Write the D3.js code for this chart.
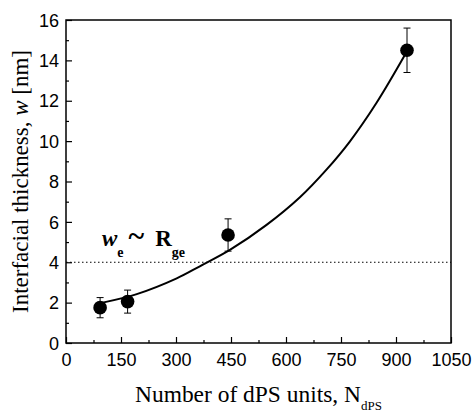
<!DOCTYPE html>
<html><head><meta charset="utf-8">
<script src="https://cdn.jsdelivr.net/npm/d3@7"></script>
<style>body{margin:0;background:#fff}svg{display:block}</style>
</head><body>
<script>
// Data
const pointsN = [93, 168, 442, 930];
const pointsW = [1.75, 2.05, 5.35, 14.5];
const errW = [0.5, 0.57, 0.8, 1.1];
const fitN = [100, 193, 302, 365, 447, 547, 638, 711, 774, 847, 930];
const fitW = [2.0, 2.42, 3.2, 3.8, 4.61, 5.85, 7.22, 8.6, 9.98, 11.9, 14.45];
const refLineW = 4;
const xTicks = [0, 150, 300, 450, 600, 750, 900, 1050];
const yTicks = [0, 2, 4, 6, 8, 10, 12, 14, 16];

const W = 472, H = 412;
const m = {l: 66, r: 21, t: 20, b: 69};
const svg = d3.select("body").append("svg").attr("width", W).attr("height", H);
const x = d3.scaleLinear().domain([0, 1050]).range([m.l, W - m.r]);
const y = d3.scaleLinear().domain([0, 16]).range([H - m.b, m.t]);

// frame
svg.append("rect").attr("x", x(0)).attr("y", y(16)).attr("width", x(1050) - x(0)).attr("height", y(0) - y(16))
  .attr("fill", "none").attr("stroke", "#000").attr("stroke-width", 1.5);

// axes
const xAxis = svg.append("g").attr("transform", `translate(0,${y(0)})`)
  .call(d3.axisBottom(x).tickValues(xTicks).tickFormat(d3.format("d")).tickSizeInner(-6).tickSizeOuter(0).tickPadding(10));
const xMinor = svg.append("g").attr("transform", `translate(0,${y(0)})`)
  .call(d3.axisBottom(x).tickValues(d3.range(75, 1050, 150)).tickSizeInner(-3).tickSizeOuter(0).tickFormat(""));
const yAxis = svg.append("g").attr("transform", `translate(${x(0)},0)`)
  .call(d3.axisLeft(y).tickValues(yTicks).tickFormat(d3.format("d")).tickSizeInner(-6).tickSizeOuter(0).tickPadding(7));
const yMinor = svg.append("g").attr("transform", `translate(${x(0)},0)`)
  .call(d3.axisLeft(y).tickValues(d3.range(1, 16, 2)).tickSizeInner(-3).tickSizeOuter(0).tickFormat(""));
[xAxis, xMinor, yAxis, yMinor].forEach(g => {
  g.select(".domain").remove();
  g.selectAll("line").attr("stroke", "#000").attr("stroke-width", 1.2);
  g.selectAll("text").attr("font-family", "Liberation Sans, Arial, sans-serif").attr("font-size", 18).attr("fill", "#000");
});
yAxis.selectAll("text").attr("dy", "0.34em");

// dotted reference line
svg.append("line").attr("x1", x(0)).attr("x2", x(1050)).attr("y1", y(refLineW)).attr("y2", y(refLineW))
  .attr("stroke", "#000").attr("stroke-width", 1).attr("stroke-dasharray", "1.5,2.5");

// fit curve
const fit = fitN.map((n, i) => [n, fitW[i]]);
svg.append("path").datum(fit)
  .attr("d", d3.line().x(d => x(d[0])).y(d => y(d[1])).curve(d3.curveCatmullRom))
  .attr("fill", "none").attr("stroke", "#000").attr("stroke-width", 2);

// error bars + points
const pts = pointsN.map((n, i) => ({n, w: pointsW[i], e: errW[i]}));
const g = svg.append("g");
pts.forEach(p => {
  g.append("line").attr("x1", x(p.n)).attr("x2", x(p.n)).attr("y1", y(p.w - p.e)).attr("y2", y(p.w + p.e)).attr("stroke", "#000").attr("stroke-width", 1);
  [p.w - p.e, p.w + p.e].forEach(v => g.append("line").attr("x1", x(p.n) - 3.5).attr("x2", x(p.n) + 3.5).attr("y1", y(v)).attr("y2", y(v)).attr("stroke", "#000").attr("stroke-width", 1));
  g.append("circle").attr("cx", x(p.n)).attr("cy", y(p.w)).attr("r", 6.8).attr("fill", "#000");
});

// annotation
const serif = "Liberation Serif, Times New Roman, serif";
const ann = svg.append("text").attr("x", 102).attr("y", 246).attr("font-family", serif)
  .attr("font-weight", "bold").attr("font-size", 23).attr("fill", "#000");
ann.append("tspan").attr("font-style", "italic").text("w");
ann.append("tspan").attr("font-size", 14).attr("dy", 11).text("e");
ann.append("tspan").attr("dy", -11).attr("dx", 5).attr("font-size", 30).text("~");
ann.append("tspan").attr("dx", 11).text("R");
ann.append("tspan").attr("font-size", 14).attr("dy", 11).text("ge");

// axis titles
const xt = svg.append("text").attr("x", 135).attr("y", 402).attr("font-family", serif)
  .attr("font-size", 23).attr("fill", "#000");
const xtMain = xt.append("tspan").text("Number of dPS units, N");
xt.append("tspan").attr("font-size", 13).attr("dy", 8).text("dPS");
{ const L = xtMain.node().getComputedTextLength(); xt.attr("font-size", 23 * 226 / L); }

const yt = svg.append("text").attr("transform", `translate(28,${(50 + 313) / 2}) rotate(-90)`).attr("text-anchor", "middle")
  .attr("font-family", serif).attr("font-size", 19).attr("fill", "#000");
yt.append("tspan").text("Interfacial thickness, ");
yt.append("tspan").attr("font-style", "italic").text("w");
yt.append("tspan").text(" [nm]");
{ const L = yt.node().getComputedTextLength(); yt.attr("font-size", 19 * 263 / L); }
</script>
</body></html>
